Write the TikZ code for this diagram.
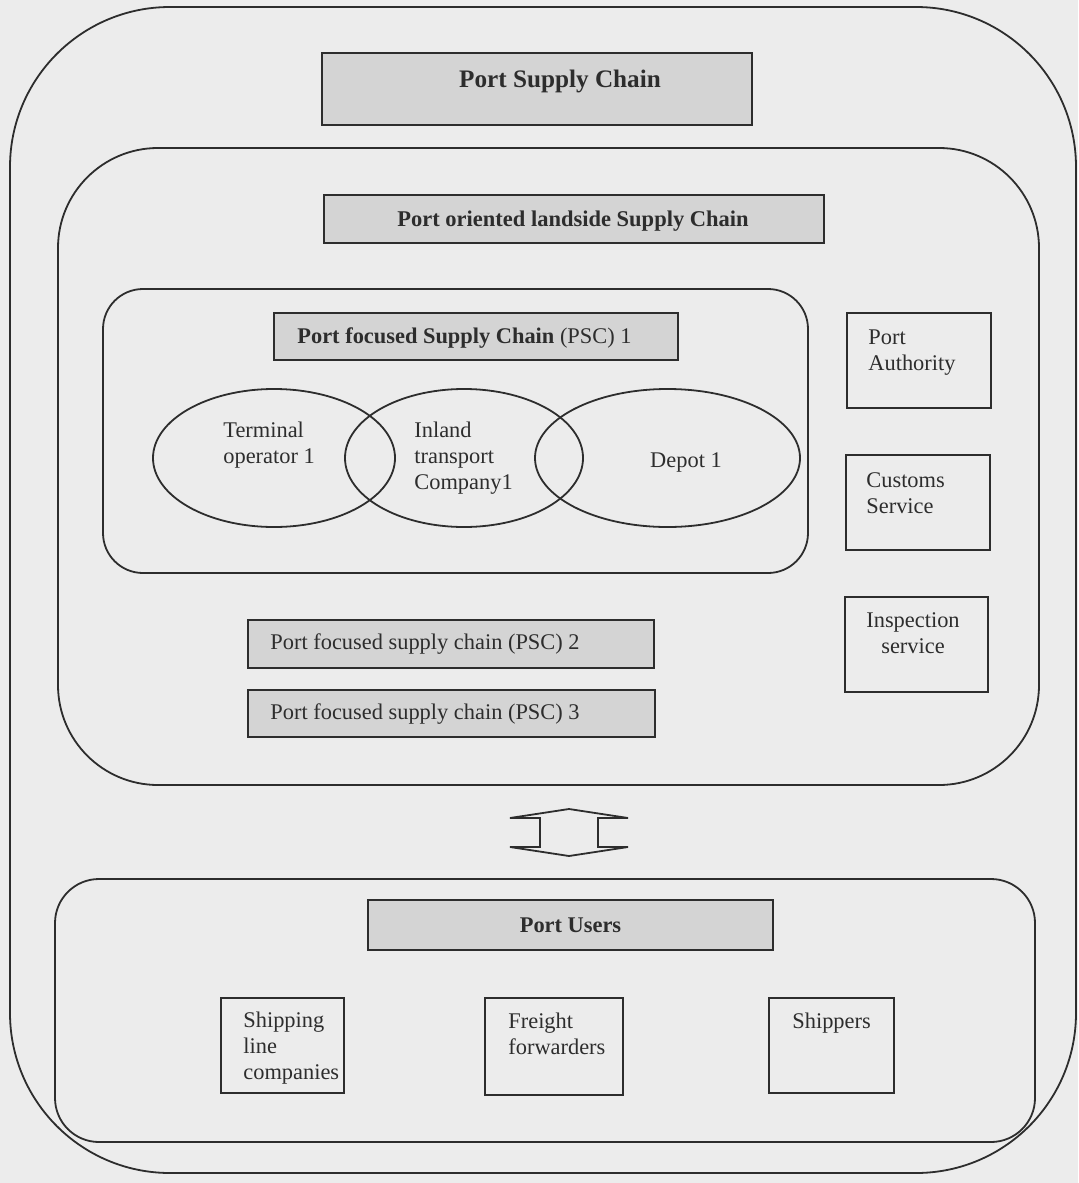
\documentclass[tikz,border=0pt]{standalone}
\usepackage{fontspec}
\setmainfont{Liberation Serif}
\usetikzlibrary{shapes.geometric,calc}
\definecolor{paper}{RGB}{236,236,236}
\definecolor{boxfill}{RGB}{212,212,212}
\definecolor{ink}{RGB}{45,45,45}
\begin{document}
\begin{tikzpicture}[x=0.5pt,y=-0.5pt,
  font=\fontsize{11.2}{13}\selectfont, text=ink,
  frame/.style={draw=ink, line width=0.9pt},
  titlebox/.style={draw=ink, line width=0.9pt, fill=boxfill, inner sep=0pt},
  plainbox/.style={draw=ink, line width=0.9pt, inner sep=0pt},
  oval/.style={ellipse, draw=ink, line width=0.9pt, inner sep=0pt},
  label/.style={align=left, inner sep=0pt, anchor=north west}]
  % page
  \fill[paper] (0,0) rectangle (1078,1183);
  \useasboundingbox (0,0) rectangle (1078,1183);

  % nested chain frames
  \draw[frame, rounded corners=80pt] (10,7) rectangle (1076,1173);
  \draw[frame, rounded corners=50pt] (58,148) rectangle (1039,785);
  \draw[frame, rounded corners=20pt] (103,289) rectangle (808,573);
  \draw[frame, rounded corners=22pt] (55,879) rectangle (1035,1142);

  % titles
  \node[titlebox, minimum width=215pt, minimum height=36pt] (psc) at (537,89) {};
  \node[inner sep=0pt, font=\fontsize{12.6}{15}\selectfont\bfseries] (psct) at (560,81) {Port Supply Chain};
  \node[titlebox, minimum width=250pt, minimum height=24pt] (land) at (574,219) {};
  \node[inner sep=0pt, font=\fontsize{11.25}{13}\selectfont\bfseries] (landt) at (573,221) {Port oriented landside Supply Chain};
  \node[titlebox, minimum width=202pt, minimum height=23.5pt] (psc1) at (476,336.5) {};
  \node[anchor=west, inner sep=0pt] (psc1t) at (297,338) {\bfseries Port focused Supply Chain \mdseries (PSC) 1};

  % actors of PSC 1
  \node[oval, minimum width=121pt, minimum height=69pt] (term) at (274,458) {};
  \node[oval, minimum width=119pt, minimum height=69pt] (inland) at (464,458) {};
  \node[oval, minimum width=132.5pt, minimum height=69pt] (depot) at (667.5,458) {};
  \node[label] (termt) at (223,422) {Terminal\\operator 1};
  \node[label] (inlandt) at (414,422) {Inland\\transport\\Company1};
  \node[inner sep=0pt] (depott) at (686,462) {Depot 1};

  % further port focused chains
  \node[titlebox, minimum width=203pt, minimum height=24pt] (psc2) at (451,644) {};
  \node[anchor=west, inner sep=0pt] (psc2t) at (270,644) {Port focused supply chain (PSC) 2};
  \node[titlebox, minimum width=203.5pt, minimum height=23.5pt] (psc3) at (451.5,713.5) {};
  \node[anchor=west, inner sep=0pt] (psc3t) at (270,714) {Port focused supply chain (PSC) 3};

  % public bodies
  \node[plainbox, minimum width=72pt, minimum height=47.5pt] (auth) at (919,360.5) {};
  \node[label] (autht) at (868,329) {Port\\Authority};
  \node[plainbox, minimum width=72pt, minimum height=47.5pt] (cust) at (918,502.5) {};
  \node[label] (custt) at (866,472) {Customs\\Service};
  \node[plainbox, minimum width=71.5pt, minimum height=47.5pt] (insp) at (916.5,644.5) {};
  \node[align=center, inner sep=0pt] (inspt) at (913,633) {Inspection\\service};

  % two-way link between landside chain and port users
  \coordinate (arr) at (569,832.5);
  \draw[ink, line width=0.9pt, line join=miter]
    ($(arr)+(-59,-14.5)$) -- ($(arr)+(0,-23.5)$) -- ($(arr)+(59,-14.5)$)
    -- ($(arr)+(29,-14.5)$) -- ($(arr)+(29,14.5)$) -- ($(arr)+(59,14.5)$)
    -- ($(arr)+(0,23.5)$) -- ($(arr)+(-59,14.5)$) -- ($(arr)+(-29,14.5)$)
    -- ($(arr)+(-29,-14.5)$) -- cycle;

  % port users
  \node[titlebox, minimum width=202.5pt, minimum height=25pt] (users) at (570.5,925) {\bfseries Port Users};
  \node[plainbox, minimum width=61.5pt, minimum height=47.5pt] (ship) at (282.5,1045.5) {};
  \node[label] (shipt) at (243,1012) {Shipping\\line\\companies};
  \node[plainbox, minimum width=69pt, minimum height=48.5pt] (fwd) at (554,1046.5) {};
  \node[label] (fwdt) at (508,1013) {Freight\\forwarders};
  \node[plainbox, minimum width=62.5pt, minimum height=47.5pt] (shp) at (831.5,1045.5) {};
  \node[label] (shpt) at (792,1013) {Shippers};
\end{tikzpicture}
\end{document}
